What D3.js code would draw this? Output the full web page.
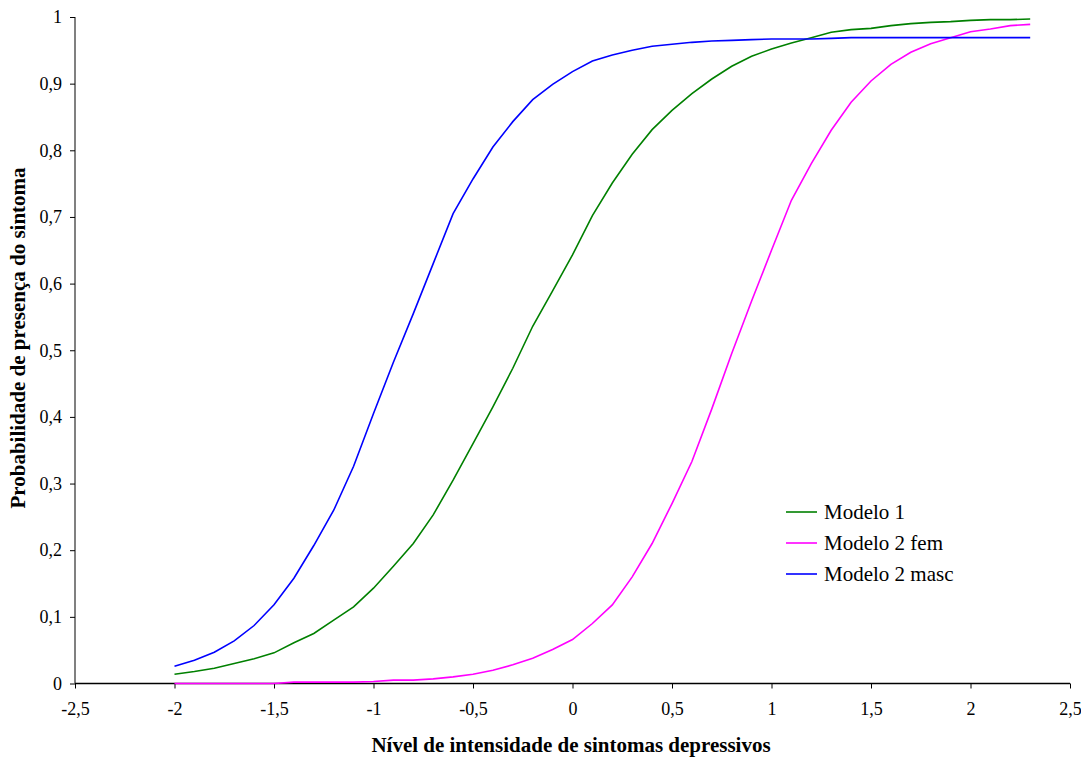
<!DOCTYPE html>
<html>
<head>
<meta charset="utf-8">
<script src="https://cdn.jsdelivr.net/npm/d3@7"></script>
<style>
body{margin:0;background:#fff;}
text{font-family:"Liberation Serif","Times New Roman",serif;fill:#000;}
</style>
</head>
<body>
<script>
// x values (nivel de intensidade)
var xVals = [-2,-1.9,-1.8,-1.7,-1.6,-1.5,-1.4,-1.3,-1.2,-1.1,-1,-0.9,-0.8,-0.7,-0.6,-0.5,-0.4,-0.3,-0.2,-0.1,
	0,0.1,0.2,0.3,0.4,0.5,0.6,0.7,0.8,0.9,1,1.1,1.2,1.3,1.4,1.5,1.6,1.7,1.8,1.9,2,2.1,2.2,2.3]

var modelo1 = [0.014,0.018,0.023,0.030,0.037,0.046,0.061,0.075,0.095,0.115,0.143,0.176,0.21,0.253,0.305,0.36,0.415,0.473,0.536,0.589,
	0.643,0.702,0.751,0.794,0.831,0.86,0.885,0.907,0.926,0.941,0.952,0.961,0.969,0.977,0.981,0.983,0.987,0.990,0.992,0.993,0.995,0.996,0.996,0.997]

var modelo2fem = [0,0,0,0,0,0,0.002,0.002,0.002,0.002,0.003,0.005,0.005,0.007,0.010,0.014,0.020,0.028,0.038,0.051,
	0.066,0.09,0.118,0.16,0.21,0.27,0.333,0.412,0.495,0.574,0.65,0.725,0.78,0.83,0.872,0.904,0.929,0.947,0.96,0.969,0.978,0.982,0.987,0.989]

var modelo2masc = [0.026,0.035,0.047,0.064,0.087,0.118,0.158,0.207,0.26,0.326,0.405,0.482,0.555,0.63,0.705,0.757,0.805,0.843,0.876,0.899,
	0.918,0.934,0.943,0.950,0.956,0.959,0.962,0.964,0.965,0.966,0.967,0.967,0.967,0.968,0.969,0.969,0.969,0.969,0.969,0.969,0.969,0.969,0.969,0.969]

var xTicks = [-2.5,-2,-1.5,-1,-0.5,0,0.5,1,1.5,2,2.5]
var yTicks = [0,0.1,0.2,0.3,0.4,0.5,0.6,0.7,0.8,0.9,1]

var series = [
	{name:"Modelo 1", color:"#008000", values:modelo1},
	{name:"Modelo 2 fem", color:"#ff00ff", values:modelo2fem},
	{name:"Modelo 2 masc", color:"#0000ff", values:modelo2masc}
]

var w = 1081;
var h = 758;
var pLeft = 75, pRight = 1070, pTop = 17, pBottom = 683.5;

var svg = d3.select("body")
	.append("svg")
	.attr("width", w)
	.attr("height", h);

var x = d3.scaleLinear().domain([-2.5,2.5]).range([pLeft,pRight]);
var y = d3.scaleLinear().domain([0,1]).range([pBottom,pTop]);

function fmt(d){ return String(d).replace(".", ","); }

// y axis
var yAxis = svg.append("g")
	.attr("transform","translate("+pLeft+",0)")
	.call(d3.axisLeft(y).tickValues(yTicks).tickSize(5).tickPadding(8).tickFormat(fmt));
yAxis.select(".domain").attr("stroke","#808080").attr("stroke-width",2).attr("d","M0,"+pTop+"V"+pBottom);
yAxis.selectAll("line").attr("stroke","#000");
yAxis.selectAll("text").attr("font-size","18px").attr("font-family","Liberation Serif");

// x axis
var xAxis = svg.append("g")
	.attr("transform","translate(0,"+pBottom+")")
	.call(d3.axisBottom(x).tickValues(xTicks).tickSize(5).tickPadding(14).tickFormat(fmt));
xAxis.select(".domain").attr("stroke","#000").attr("stroke-width",1.5).attr("d","M"+pLeft+",0H"+pRight);
xAxis.selectAll("line").attr("stroke","#000");
xAxis.selectAll("text").attr("font-size","18px").attr("font-family","Liberation Serif");

// lines
var line = d3.line()
	.x(function(d,i){ return x(xVals[i]) })
	.y(function(d){ return y(d) });

svg.selectAll("path.serie")
	.data(series)
	.enter()
	.append("path")
	.attr("class","serie")
	.attr("fill","none")
	.attr("stroke",function(d){ return d.color })
	.attr("stroke-width",1.6)
	.attr("d",function(d){ return line(d.values) });

// titles
svg.append("text")
	.attr("x",571)
	.attr("y",752)
	.attr("text-anchor","middle")
	.attr("font-size","21px")
	.attr("font-weight","bold")
	.text("Nível de intensidade de sintomas depressivos");

svg.append("text")
	.attr("transform","translate(25,338) rotate(-90)")
	.attr("text-anchor","middle")
	.attr("font-size","21px")
	.attr("font-weight","bold")
	.text("Probabilidade de presença do sintoma");

// legend
var leg = svg.selectAll("g.leg")
	.data(series)
	.enter()
	.append("g")
	.attr("class","leg")
	.attr("transform",function(d,i){ return "translate(786,"+(512+i*31)+")" });
leg.append("line")
	.attr("x1",0).attr("x2",31)
	.attr("stroke",function(d){ return d.color })
	.attr("stroke-width",1.6);
leg.append("text")
	.attr("x",38)
	.attr("y",7)
	.attr("font-size","21px")
	.text(function(d){ return d.name });
</script>
</body>
</html>
